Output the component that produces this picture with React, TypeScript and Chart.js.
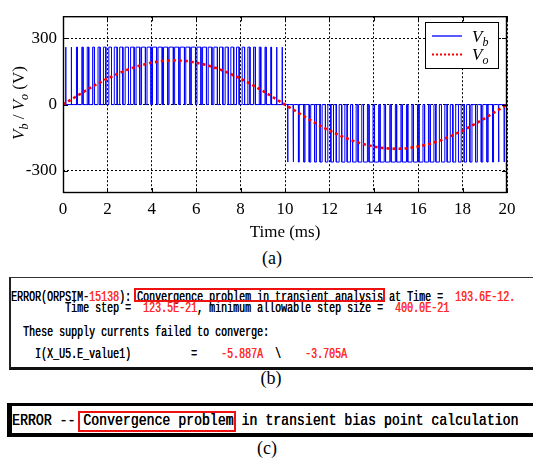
import { useEffect, useRef } from "react";
import { Chart, registerables } from "chart.js";

Chart.register(...registerables);

// ---- inverter waveforms: time in ms, voltage in V ----
const switchPeriodMs = 0.25;
const busLevels = [260, -260]; // pulse height in the positive / negative half cycle
const startTransient = -45;
const positiveHalfDuty = [
  0.03, 0.09, 0.15, 0.21, 0.27, 0.32, 0.38, 0.43, 0.48, 0.52,
  0.57, 0.6, 0.64, 0.67, 0.7, 0.72, 0.74, 0.76, 0.77, 0.77,
  0.77, 0.77, 0.76, 0.74, 0.72, 0.7, 0.67, 0.64, 0.6, 0.57,
  0.52, 0.48, 0.43, 0.38, 0.32, 0.27, 0.21, 0.15, 0.09, 0.03,
];
const negativeHalfDuty = [
  0.03, 0.09, 0.15, 0.21, 0.27, 0.32, 0.38, 0.43, 0.48, 0.52,
  0.57, 0.6, 0.64, 0.67, 0.7, 0.72, 0.74, 0.76, 0.77, 0.77,
  0.77, 0.77, 0.76, 0.74, 0.72, 0.7, 0.67, 0.64, 0.6, 0.57,
  0.52, 0.48, 0.43, 0.38, 0.32, 0.27, 0.21, 0.15, 0.09, 0.03,
];
const voTimeMs = [
  0, 0.5, 1, 1.5, 2, 2.5, 3, 3.5, 4, 4.5, 5, 5.5, 6, 6.5, 7, 7.5, 8, 8.5, 9, 9.5,
  10, 10.5, 11, 11.5, 12, 12.5, 13, 13.5, 14, 14.5, 15, 15.5, 16, 16.5, 17, 17.5,
  18, 18.5, 19, 19.5, 20,
];
const voVolts = [
  0, 31, 62, 91, 118, 141, 162, 178, 190, 198, 200, 198, 190, 178, 162, 141, 118, 91, 62, 31,
  0, -31, -62, -91, -118, -141, -162, -178, -190, -198, -200, -198, -190, -178, -162, -141,
  -118, -91, -62, -31, 0,
];
const xTickValues = [0, 2, 4, 6, 8, 10, 12, 14, 16, 18, 20];
const yTickValues = [-300, 0, 300];

// ---- simulator messages ----
type Seg = [string, boolean]; // [text, highlighted in red]
const transientLog: Seg[][] = [
  [["ERROR(ORPSIM-", false], ["15138", true], ["): Convergence problem in transient analysis at Time =  ", false], ["193.6E-12.", true]],
  [["         Time step =  ", false], ["123.5E-21", true], [", minimum allowable step size =  ", false], ["400.0E-21", true]],
  [["  These supply currents failed to converge:", false]],
  [["    I(X_U5.E_value1)          =    ", false], ["-5.887A", true], ["  \\    ", false], ["-3.705A", true]],
];
const transientLogRows = [297.3, 308.3, 331.7, 354.3];
const biasLog = "ERROR -- Convergence problem in transient bias point calculation";

const SERIF = '"Liberation Serif", "Times New Roman", serif';
const MONO = '"Liberation Mono", "Courier New", monospace';

function buildVb() {
  const pts: { x: number; y: number }[] = [
    { x: 0, y: startTransient },
    { x: 0, y: 0 },
  ];
  const duties = [...positiveHalfDuty, ...negativeHalfDuty];
  duties.forEach((d, k) => {
    const level = busLevels[k < positiveHalfDuty.length ? 0 : 1];
    const mid = (k + 0.5) * switchPeriodMs;
    const half = (d * switchPeriodMs) / 2;
    pts.push(
      { x: mid - half, y: 0 },
      { x: mid - half, y: level },
      { x: mid + half, y: level },
      { x: mid + half, y: 0 }
    );
  });
  pts.push({ x: duties.length * switchPeriodMs, y: 0 });
  return pts;
}

function drawRich(
  ctx: CanvasRenderingContext2D,
  parts: { t: string; italic?: boolean; sub?: boolean }[],
  x: number,
  y: number,
  align: "left" | "center"
) {
  const fontOf = (p: { italic?: boolean; sub?: boolean }) =>
    `${p.italic ? "italic " : ""}${p.sub ? 12 : 17}px ${SERIF}`;
  let total = 0;
  const widths = parts.map((p) => {
    ctx.font = fontOf(p);
    const w = ctx.measureText(p.t).width;
    total += w;
    return w;
  });
  let cx = align === "center" ? x - total / 2 : x;
  ctx.textBaseline = "alphabetic";
  ctx.textAlign = "left";
  parts.forEach((p, i) => {
    ctx.font = fontOf(p);
    ctx.fillText(p.t, cx, y + (p.sub ? 4 : 0));
    cx += widths[i];
  });
}

const framePlugin = {
  id: "frame",
  afterDatasetsDraw(chart: any) {
    const { ctx, chartArea } = chart;
    const { left, right, top, bottom } = chartArea;
    const xs = chart.scales.x;
    const ys = chart.scales.y;
    ctx.save();
    ctx.strokeStyle = "#000";
    ctx.lineWidth = 1;
    ctx.beginPath();
    xTickValues.forEach((v) => {
      const px = Math.round(xs.getPixelForValue(v)) + 0.5;
      ctx.moveTo(px, bottom);
      ctx.lineTo(px, bottom - 5);
      ctx.moveTo(px, top);
      ctx.lineTo(px, top + 5);
    });
    yTickValues.forEach((v) => {
      const py = Math.round(ys.getPixelForValue(v)) + 0.5;
      ctx.moveTo(left, py);
      ctx.lineTo(left + 5, py);
      ctx.moveTo(right, py);
      ctx.lineTo(right - 5, py);
    });
    ctx.stroke();
    ctx.lineWidth = 1.4;
    ctx.strokeRect(left + 0.5, top + 0.5, right - left - 1, bottom - top - 1);
    ctx.restore();
  },
  afterDraw(chart: any) {
    const { ctx } = chart;
    ctx.save();
    ctx.fillStyle = "#000";
    // y axis title
    ctx.translate(24, 103);
    ctx.rotate(-Math.PI / 2);
    drawRich(
      ctx,
      [
        { t: "V", italic: true },
        { t: "b", italic: true, sub: true },
        { t: " / " },
        { t: "V", italic: true },
        { t: "o", italic: true, sub: true },
        { t: " (V)" },
      ],
      0,
      0,
      "center"
    );
    ctx.restore();

    // legend
    ctx.save();
    ctx.fillStyle = "#fff";
    ctx.fillRect(425.5, 22.5, 73, 46);
    ctx.strokeStyle = "#000";
    ctx.lineWidth = 1;
    ctx.strokeRect(425.5, 22.5, 73, 46);
    ctx.strokeStyle = "#0000ff";
    ctx.lineWidth = 1.3;
    ctx.beginPath();
    ctx.moveTo(432, 36);
    ctx.lineTo(462, 36);
    ctx.stroke();
    ctx.strokeStyle = "#ff0000";
    ctx.lineWidth = 2;
    ctx.setLineDash([2, 2]);
    ctx.beginPath();
    ctx.moveTo(432, 54.5);
    ctx.lineTo(462, 54.5);
    ctx.stroke();
    ctx.setLineDash([]);
    ctx.fillStyle = "#000";
    drawRich(ctx, [{ t: "V", italic: true }, { t: "b", italic: true, sub: true }], 472, 41.5, "left");
    drawRich(ctx, [{ t: "V", italic: true }, { t: "o", italic: true, sub: true }], 472, 60, "left");
    ctx.restore();
  },
};

function Caption({ text, cx, cy }: { text: string; cx: number; cy: number }) {
  return (
    <div
      style={{
        position: "absolute",
        left: cx - 30,
        top: cy - 11,
        width: 60,
        height: 22,
        lineHeight: "22px",
        fontSize: 18,
        textAlign: "center",
        fontFamily: SERIF,
        color: "#000",
      }}
    >
      {text}
    </div>
  );
}

function LogLine({
  segs,
  left,
  cy,
  size,
  scale,
}: {
  segs: Seg[];
  left: number;
  cy: number;
  size: number;
  scale: number;
}) {
  return (
    <div
      style={{
        position: "absolute",
        left,
        top: cy - size / 2,
        height: size,
        lineHeight: `${size}px`,
        fontSize: size,
        fontFamily: MONO,
        whiteSpace: "pre",
        transform: `scaleX(${scale})`,
        transformOrigin: "0 0",
        color: "#000",
        textShadow: "0.4px 0 0 currentColor",
      }}
    >
      {segs.map(([t, red], i) => (
        <span key={i} style={{ color: red ? "#ff2a2a" : "#000" }}>
          {t}
        </span>
      ))}
    </div>
  );
}

export default function App() {
  const canvasRef = useRef<HTMLCanvasElement>(null);

  useEffect(() => {
    const canvas = canvasRef.current;
    if (!canvas) return;
    const tickFont = { family: SERIF, size: 17 };
    const chart = new Chart(canvas, {
      type: "line",
      data: {
        datasets: [
          {
            label: "Vo",
            data: voTimeMs.map((t, i) => ({ x: t, y: voVolts[i] })),
            borderColor: "#ff0000",
            borderWidth: 2.6,
            borderDash: [3, 3],
            pointRadius: 0,
            order: 0,
          },
          {
            label: "Vb",
            data: buildVb(),
            borderColor: "#0000ff",
            borderWidth: 1,
            pointRadius: 0,
            order: 1,
          },
        ],
      },
      options: {
        animation: false,
        responsive: false,
        events: [],
        layout: { padding: { left: 0, top: 9, right: 26, bottom: 0 } },
        plugins: { legend: { display: false }, tooltip: { enabled: false } },
        scales: {
          x: {
            type: "linear",
            min: 0,
            max: 20,
            afterBuildTicks: (s: any) => {
              s.ticks = xTickValues.map((v) => ({ value: v }));
            },
            afterFit: (s: any) => {
              s.height = 52;
            },
            grid: { color: "#000", lineWidth: 1, drawTicks: false },
            border: { display: false, dash: [2, 2] },
            ticks: { color: "#000", font: tickFont, padding: 6, maxRotation: 0, autoSkip: false },
            title: {
              display: true,
              text: "Time (ms)",
              color: "#000",
              font: tickFont,
              padding: { top: 0, bottom: 2 },
            },
          },
          y: {
            type: "linear",
            min: -400,
            max: 400,
            afterBuildTicks: (s: any) => {
              s.ticks = yTickValues.map((v) => ({ value: v }));
            },
            afterFit: (s: any) => {
              s.width = 63;
            },
            grid: { color: "#000", lineWidth: 1, drawTicks: false },
            border: { display: false, dash: [2, 2] },
            ticks: { color: "#000", font: tickFont, padding: 6, autoSkip: false },
          },
        },
      },
      plugins: [framePlugin],
    } as any);
    return () => chart.destroy();
  }, []);

  return (
    <div
      style={{
        position: "absolute",
        left: 0,
        top: 0,
        width: 533,
        height: 459,
        overflow: "hidden",
        background: "#fff",
      }}
    >
      <canvas
        ref={canvasRef}
        width={533}
        height={245}
        style={{ position: "absolute", left: 0, top: 0, width: 533, height: 245 }}
      />
      <Caption text="(a)" cx={272} cy={258} />

      {/* transient analysis message */}
      <div
        style={{
          position: "absolute",
          left: 9,
          top: 277,
          width: 560,
          height: 93,
          boxSizing: "border-box",
          borderTop: "1px solid #333",
          borderLeft: "2px solid #222",
          borderBottom: "3px solid #111",
          background: "#fff",
        }}
      />
      {transientLog.map((segs, i) => (
        <LogLine key={i} segs={segs} left={11} cy={transientLogRows[i]} size={14} scale={6 / 8.4} />
      ))}
      <div
        style={{
          position: "absolute",
          left: 134,
          top: 288.3,
          width: 251,
          height: 14,
          boxSizing: "border-box",
          border: "2px solid #ee1111",
        }}
      />
      <Caption text="(b)" cx={271} cy={378} />

      {/* bias point message */}
      <div
        style={{
          position: "absolute",
          left: 7,
          top: 403,
          width: 560,
          height: 34,
          boxSizing: "border-box",
          borderTop: "3px solid #000",
          borderLeft: "5px solid #000",
          borderBottom: "4px solid #000",
          background: "#fff",
        }}
      />
      <LogLine segs={[[biasLog, false]]} left={11.7} cy={420.7} size={17} scale={7.91 / 10.2} />
      <div
        style={{
          position: "absolute",
          left: 77.7,
          top: 411,
          width: 158,
          height: 21.3,
          boxSizing: "border-box",
          border: "2px solid #ee1111",
        }}
      />
      <Caption text="(c)" cx={267} cy={448} />
    </div>
  );
}
